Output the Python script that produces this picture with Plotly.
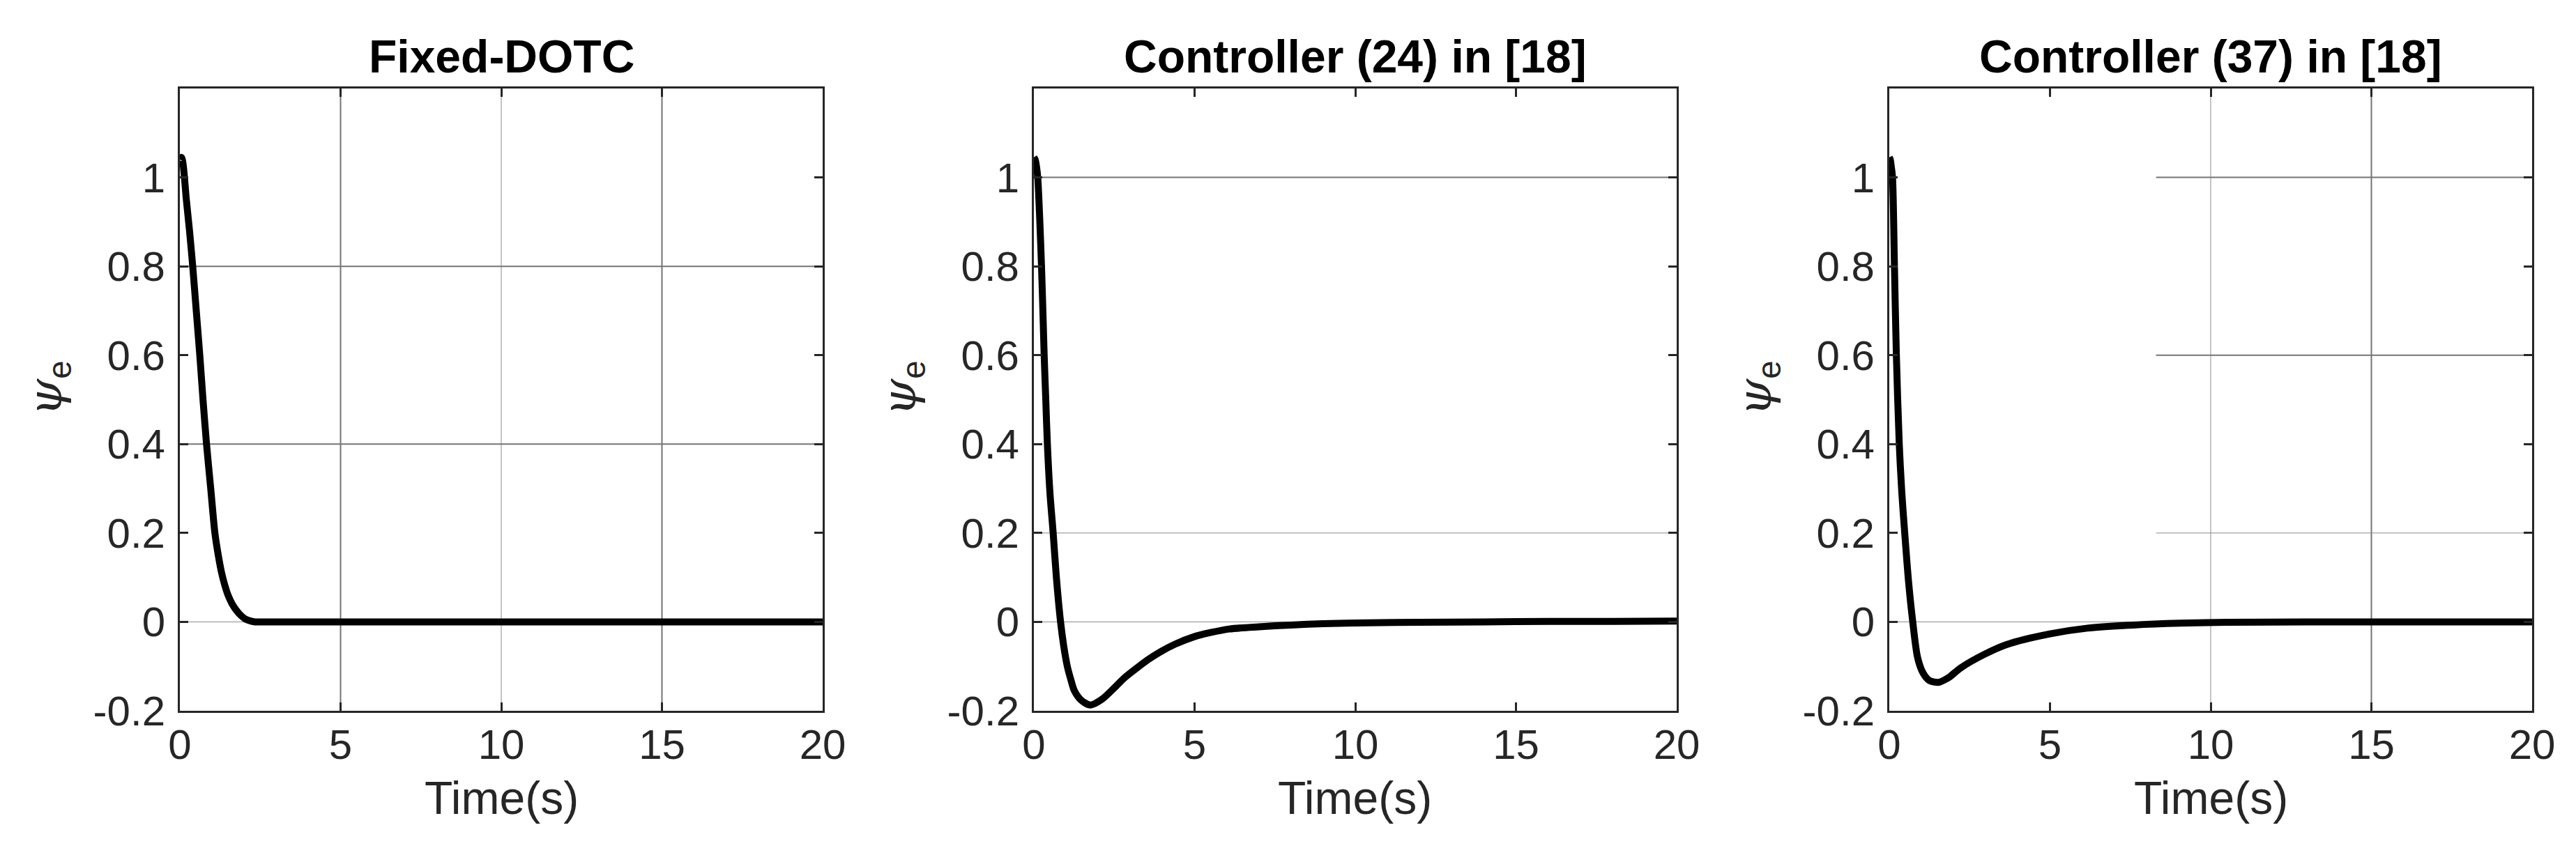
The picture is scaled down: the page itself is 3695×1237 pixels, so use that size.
import plotly.graph_objects as go

# ---------------- data ----------------
titles = ["Fixed-DOTC", "Controller (24) in [18]", "Controller (37) in [18]"]
x_label = "Time(s)"
y_label = '<span style="font-family:DejaVu Serif"><i>ψ</i></span><sub>e</sub>'
x_ticks = [0, 5, 10, 15, 20]
y_ticks = [-0.2, 0, 0.2, 0.4, 0.6, 0.8, 1]
y_tick_text = ["-0.2", "0", "0.2", "0.4", "0.6", "0.8", "1"]

t_fixed = [0, 0.05, 0.1, 0.2, 0.3, 0.4, 0.51, 0.62, 0.72, 0.83, 0.96, 1.09, 1.2,
           1.3, 1.4, 1.5, 1.63, 1.78, 1.92, 2.05, 2.2, 2.35, 2.6, 3.0, 5, 10, 15, 20]
psi_fixed = [1.04, 1.045, 1.03, 0.951, 0.88, 0.8, 0.7, 0.6, 0.5, 0.4, 0.3, 0.2, 0.148,
             0.11, 0.082, 0.06, 0.04, 0.024, 0.013, 0.006, 0.002, 0.0, 0.0, 0.0, 0.0, 0.0, 0.0, 0.0]

t_c24 = [0, 0.04, 0.08, 0.12, 0.18, 0.237, 0.28, 0.32, 0.37, 0.42, 0.5, 0.6, 0.7, 0.83,
         0.93, 1.04, 1.15, 1.26, 1.47, 1.76, 2.12, 2.48, 2.8, 3.2, 3.55, 3.92, 4.4, 4.96,
         5.5, 6.08, 7.0, 8.0, 9.0, 10.4, 12, 14, 16, 18, 20]
psi_c24 = [1.045, 1.04, 1.025, 1.0, 0.91, 0.8, 0.7, 0.6, 0.5, 0.4, 0.29, 0.2, 0.1, 0.0,
           -0.055, -0.1, -0.13, -0.155, -0.176, -0.187, -0.174, -0.15, -0.127, -0.104, -0.085, -0.068, -0.05, -0.034,
           -0.024, -0.016, -0.011, -0.007, -0.004, -0.002, -0.001, 0.0, 0.001, 0.001, 0.002]

t_c37 = [0, 0.03, 0.06, 0.1, 0.16, 0.22, 0.31, 0.39, 0.48, 0.6, 0.73, 0.88, 1.05,
         1.25, 1.53, 1.85, 2.21, 2.93, 3.65, 5, 6.17, 7.6, 9.06, 10.5, 13, 16, 20]
psi_c37 = [1.045, 1.04, 1.025, 1.0, 0.8, 0.6, 0.4, 0.29, 0.2, 0.09, 0.0, -0.08, -0.115,
           -0.132, -0.136, -0.125, -0.104, -0.074, -0.051, -0.027, -0.014, -0.007, -0.003, -0.001, 0.0, 0.0, 0.0]

series = [(t_fixed, psi_fixed), (t_c24, psi_c24), (t_c37, psi_c37)]

# visible grid lines in each panel: (value, style, from, to)
grid_v = [[(5, "heavy"), (10, "thin"), (15, "heavy")],
          [],
          [(10, "thin"), (15, "heavy")]]
grid_h = [[(0.8, "heavy", 0, 20), (0.4, "heavy", 0, 20), (0, "thin", 0, 20)],
          [(1, "heavy", 0, 20), (0.2, "thin", 0, 20), (0, "thin", 0, 20)],
          [(1, "heavy", 8.3, 20), (0.6, "heavy", 8.3, 20), (0.2, "thin", 8.3, 20), (0, "thin", 0, 20)]]

# ---------------- layout geometry ----------------
W, H = 3695, 1237
OFF = 8  # page body margin shifts the figure by this many px
lefts = [258 - OFF, 1483 - OFF, 2710 - OFF]
pw = 922
top_px, bot_px = 127 - OFF, 1020 - OFF
ydom = [(H - bot_px) / H, (H - top_px) / H]

AX = "#262626"
FONT = "Liberation Sans, Arial, sans-serif"
gstyle = {"heavy": dict(color="#747474", width=2), "thin": dict(color="#8a8a8a", width=1)}

fig = go.Figure()
shapes = []
annotations = []
for i, (t, y) in enumerate(series):
    sfx = "" if i == 0 else str(i + 1)
    xa, ya = "x" + sfx, "y" + sfx
    fig.add_trace(go.Scatter(x=t, y=y, mode="lines", xaxis=xa, yaxis=ya,
                             line=dict(color="black", width=10, shape="spline", smoothing=0.8),
                             showlegend=False, hoverinfo="skip"))
    dom = [lefts[i] / W, (lefts[i] + pw) / W]
    common = dict(showline=True, linecolor=AX, linewidth=3, mirror="ticks",
                  ticks="inside", ticklen=12, tickwidth=3, tickcolor=AX,
                  showgrid=False, zeroline=False, automargin=False,
                  tickfont=dict(family=FONT, size=60, color=AX))
    fig.layout["xaxis" + sfx] = dict(domain=dom, anchor=ya, range=[0, 20],
                                     tickvals=x_ticks, ticklabelstandoff=-6, **common)
    fig.layout["yaxis" + sfx] = dict(domain=ydom, anchor=xa, range=[-0.2, 1.2],
                                     tickvals=y_ticks, ticktext=y_tick_text,
                                     ticklabelstandoff=6, **common)
    for v, st in grid_v[i]:
        shapes.append(dict(type="line", xref=xa, yref=ya, x0=v, x1=v, y0=-0.2, y1=1.2,
                           line=gstyle[st], layer="below"))
    for v, st, a, b in grid_h[i]:
        shapes.append(dict(type="line", xref=xa, yref=ya, x0=a, x1=b, y0=v, y1=v,
                           line=gstyle[st], layer="below"))
    cx = (lefts[i] + pw / 2) / W
    annotations.append(dict(text="<b>" + titles[i] + "</b>", xref="paper", yref="paper",
                            x=cx, y=(H - (81 - OFF)) / H, xanchor="center", yanchor="middle",
                            showarrow=False, font=dict(family=FONT, size=66, color="black")))
    annotations.append(dict(text=x_label, xref="paper", yref="paper",
                            x=cx, y=(H - (1145 - OFF)) / H, xanchor="center", yanchor="middle",
                            showarrow=False, font=dict(family=FONT, size=66, color=AX)))
    annotations.append(dict(text=y_label, xref="paper", yref="paper",
                            x=(lefts[i] - 190) / W, y=(H - (557 - OFF)) / H, xanchor="center", yanchor="middle",
                            textangle=-90, showarrow=False, font=dict(family=FONT, size=68, color=AX)))

fig.update_layout(width=W, height=H, margin=dict(l=0, r=0, t=0, b=0, autoexpand=False),
                  paper_bgcolor="white", plot_bgcolor="white",
                  shapes=shapes, annotations=annotations)
fig.write_html("out.html")
